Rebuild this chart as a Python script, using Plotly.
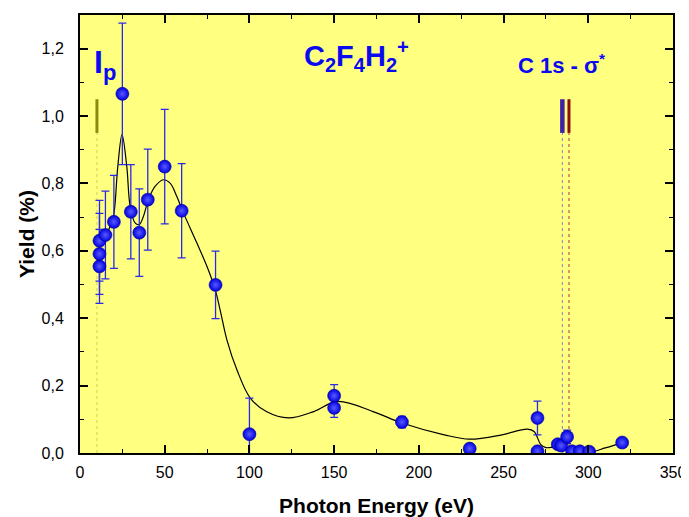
import plotly.graph_objects as go

# ---- data ----
energy = [11.5, 11.5, 11.5, 15, 20, 25, 30, 35, 40, 50, 60, 80,
          100, 150, 150, 190, 230, 270, 270, 282, 284, 287.5, 290.5, 295, 300.5, 320]
yield_pct = [0.554, 0.591, 0.630, 0.647, 0.686, 1.066, 0.716, 0.654, 0.752, 0.850, 0.719, 0.499,
             0.056, 0.170, 0.134, 0.092, 0.013, 0.104, 0.005, 0.026, 0.022, 0.048, 0.005, 0.005, 0.004, 0.031]
yield_err = [0.11, 0.12, 0.12, 0.13, 0.138, 0.21, 0.14, 0.13, 0.15, 0.17, 0.14, 0.10,
             0.107, 0.033, 0.028, 0.017, 0.0, 0.05, 0.0, 0.0, 0.0, 0.02, 0.0, 0.0, 0.0, 0.007]

# smooth guide curve
curve_x = [11.5, 15, 18, 20, 22.3, 24.8, 27.6, 29.6, 32.5, 35, 37.4, 40.4, 44.3, 49.2, 53.2, 57.1,
           61.1, 69, 74.9, 79.8, 82.7, 86.7, 92.6, 100.5, 110, 123, 138, 152, 173, 190, 215,
           230, 249, 264, 268, 272, 275, 280, 285, 292, 300, 310, 320]
curve_y = [0.625, 0.645, 0.675, 0.71, 0.85, 0.945, 0.851, 0.732, 0.683, 0.678, 0.702, 0.752,
           0.791, 0.811, 0.801, 0.762, 0.712, 0.623, 0.554, 0.485, 0.425, 0.336, 0.247, 0.163,
           0.123, 0.104, 0.123, 0.153, 0.123, 0.089, 0.054, 0.041, 0.054, 0.071, 0.064, 0.025,
           0.016, 0.018, 0.018, 0.01, 0.002, 0.015, 0.031]

# threshold markers
ip_energy = 10.0
core_energies = [284.7, 288.6]
marker_span = [0.95, 1.05]
x_ticks = [0, 50, 100, 150, 200, 250, 300, 350]
y_ticks = [0.0, 0.2, 0.4, 0.6, 0.8, 1.0, 1.2]

FONT = "Arial, Liberation Sans, sans-serif"
BLUE = "#0a0af0"

fig = go.Figure()

# dotted guides below the markers
for ex, col in [(ip_energy, "#cfcf60"), (core_energies[0], "#8c7cd0"), (core_energies[1], "#c03030")]:
    fig.add_trace(go.Scatter(x=[ex, ex], y=[0, marker_span[0]], mode="lines",
                             line=dict(color=col, width=1, dash="dot"), hoverinfo="skip", showlegend=False))
# solid markers
for ex, col, w in [(ip_energy, "#8a8a10", 3), (core_energies[0], "#3e22a8", 4.5), (core_energies[1], "#8b1010", 3)]:
    fig.add_trace(go.Scatter(x=[ex, ex], y=marker_span, mode="lines",
                             line=dict(color=col, width=w), hoverinfo="skip", showlegend=False))

# guide curve
fig.add_trace(go.Scatter(x=curve_x, y=curve_y, mode="lines",
                         line=dict(color="black", width=1.2, shape="spline", smoothing=1.0),
                         showlegend=False))

# data points
fig.add_trace(go.Scatter(
    x=energy, y=yield_pct, mode="markers",
    error_y=dict(type="data", array=yield_err, visible=True, color="#2a2ae8", thickness=1.3, width=4),
    marker=dict(size=13, color="#0000e0", line=dict(color="#00009a", width=0.6),
                gradient=dict(type="radial", color="#5a5aff")),
    showlegend=False))

SUB = "<sub><span style='font-size:20px'>{}</span></sub>"
# annotations
fig.add_annotation(x=7.0, y=1.22, xref="x", yref="y", xanchor="left", yanchor="top",
                   text="I<sub><span style='font-size:22px'>p</span></sub>", showarrow=False,
                   font=dict(family=FONT, size=32, color=BLUE, weight="bold"))
fig.add_annotation(x=163, y=1.244, xref="x", yref="y", xanchor="center", yanchor="top",
                   text="C" + SUB.format("2") + "F" + SUB.format("4") + "H" + SUB.format("2") + "<sup>+</sup>",
                   showarrow=False,
                   font=dict(family=FONT, size=29, color=BLUE, weight="bold"))
fig.add_annotation(x=284, y=1.155, xref="x", yref="y", xanchor="center", yanchor="middle",
                   text="C 1s - σ<sup>*</sup>", showarrow=False,
                   font=dict(family=FONT, size=22, color=BLUE, weight="bold"))

axis_common = dict(
    showline=True, linecolor="black", linewidth=2, mirror="ticks",
    ticks="inside", ticklen=8, tickwidth=1.5, tickcolor="black",
    showgrid=False, zeroline=False, automargin=False,
    tickfont=dict(family=FONT, size=16, color="black"),
)

fig.update_xaxes(range=[0, 350], tickvals=x_ticks,
                 minor=dict(ticks="inside", ticklen=4, tickwidth=1.2, dtick=25, tick0=0, tickcolor="black"),
                 title=dict(text="Photon Energy (eV)", standoff=27,
                            font=dict(family=FONT, size=21, color="black", weight="bold")),
                 ticklabelstandoff=4,
                 **axis_common)
fig.update_yaxes(range=[0, 1.3], tickvals=y_ticks, tickformat=".1f",
                 minor=dict(ticks="inside", ticklen=4, tickwidth=1.2, dtick=0.1, tick0=0, tickcolor="black"),
                 title=dict(text="Yield (%)", standoff=1,
                            font=dict(family=FONT, size=21, color="black", weight="bold")),
                 ticklabelstandoff=11,
                 **axis_common)

# the page body adds an 8px offset, so the figure is sized to fit the window
fig.update_layout(
    width=681, height=509,
    margin=dict(l=72, r=16, t=7, b=64),
    plot_bgcolor="#ffff80", paper_bgcolor="white",
    separators=",.",
    showlegend=False,
)

fig.write_html("out.html")
